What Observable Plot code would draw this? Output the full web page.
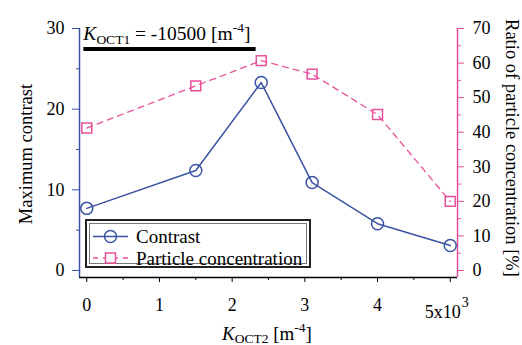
<!DOCTYPE html>
<html><head><meta charset="utf-8">
<script src="https://cdn.jsdelivr.net/npm/d3@7"></script>
<script src="https://cdn.jsdelivr.net/npm/@observablehq/plot@0.6"></script>
<style>
body{margin:0;background:#fff}
</style>
</head><body><div id="chart"></div>
<script>
// ---- data ----
const kOct2 = [0, 1.5, 2.4, 3.1, 4, 5];            // x (x10^3 m^-4)
const contrast = [7.7, 12.4, 23.3, 10.9, 5.8, 3.1]; // left axis
const particleRatio = [41.2, 53.4, 60.7, 56.8, 45.1, 20.0]; // right axis (%)
const leftTicks = [0, 10, 20, 30];
const leftMinor = [5, 15, 25];
const rightTicks = [0, 10, 20, 30, 40, 50, 60, 70];
const rightMinor = [5, 15, 25, 35, 45, 55, 65];
const xTicks = [0, 1, 2, 3, 4, 5];
const xMinor = [0.5, 1.5, 2.5, 3.5, 4.5];
const seriesNames = ["Contrast", "Particle concentration"];
const kOct1Value = "-10500";
const annotSpan = [-0.04, 2.33];
const annotLevel = 27.45;

const blue = "#3a53a4", pink = "#e8509a";
const FONT = "'Liberation Serif', 'Times New Roman', Times, 'DejaVu Serif', serif";
const ratio = 30 / 70; // right -> left scale
const xDom = [-0.1, 5.1], yDom = [-0.87, 30];

const rows = kOct2.map((x, i) => ({x, c: contrast[i], p: particleRatio[i] * ratio}));

const chart = Plot.plot({
  width: 522, height: 345,
  marginLeft: 79, marginRight: 65, marginTop: 28, marginBottom: 68,
  style: {fontSize: "18px", background: "#fff", color: "#000"},
  x: {domain: xDom, axis: null},
  y: {domain: yDom, axis: null},
  marks: [
    Plot.ruleX([xDom[0]], {stroke: blue, strokeWidth: 1.5}),
    Plot.axisY({ticks: leftTicks, tickSize: 7, tickPadding: 8, stroke: blue, fill: "#000", label: null}),
    Plot.axisY({ticks: leftMinor, tickSize: 3, text: null, stroke: blue, label: null}),
    Plot.ruleX([xDom[1]], {stroke: pink, strokeWidth: 1.5}),
    Plot.axisY({anchor: "right", ticks: rightTicks.map(v => v * ratio), tickFormat: d => Math.round(d / ratio),
      tickSize: 6, tickPadding: 9, stroke: pink, fill: "#000", label: null}),
    Plot.axisY({anchor: "right", ticks: rightMinor.map(v => v * ratio), tickSize: 3, text: null, stroke: pink, label: null}),
    Plot.ruleY([yDom[0]], {stroke: "#000", strokeWidth: 1.5}),
    Plot.axisX({ticks: xTicks, tickSize: 5, tickPadding: 16, tickFormat: d => d === 5 ? "" : d, stroke: "#000", label: null}),
    Plot.axisX({ticks: xMinor, tickSize: 3, text: null, stroke: "#000", label: null}),
    Plot.ruleY([annotLevel], {x1: annotSpan[0], x2: annotSpan[1], stroke: "#000", strokeWidth: 4}),
    Plot.line(rows, {x: "x", y: "p", stroke: pink, strokeWidth: 1.3, strokeDasharray: "6,5"}),
    Plot.dot(rows, {x: "x", y: "p", symbol: "square", r: 5.6, stroke: pink, strokeWidth: 1.5, fill: "none"}),
    Plot.line(rows, {x: "x", y: "c", stroke: blue, strokeWidth: 1.5}),
    Plot.dot(rows, {x: "x", y: "c", symbol: "circle", r: 6, stroke: blue, strokeWidth: 1.5, fill: "none"})
  ]
});
document.getElementById("chart").append(chart);

const svg = d3.select(chart);
const sx = chart.scale("x");

svg.append("text").attr("x", sx.apply(5) + 11).attr("y", 318).attr("text-anchor", "end")
  .attr("font-size", 18).text("5x10");
svg.append("text").attr("x", sx.apply(5) + 12).attr("y", 307).attr("text-anchor", "start").attr("font-size", 14).text("3");

const ann = svg.append("text").attr("x", sx.apply(annotSpan[0])).attr("y", 40).attr("text-anchor", "start").attr("font-size", 19.5);
ann.append("tspan").attr("font-style", "italic").text("K");
ann.append("tspan").attr("font-size", 13.5).attr("dy", 4).text("OCT1");
ann.append("tspan").attr("dy", -4).text(" = " + kOct1Value + " [m");
ann.append("tspan").attr("font-size", 13.5).attr("dy", -8).text("-4");
ann.append("tspan").attr("dy", 8).text("]");

const xt = svg.append("text").attr("x", 267).attr("y", 340).attr("text-anchor", "middle").attr("font-size", 19);
xt.append("tspan").attr("font-style", "italic").text("K");
xt.append("tspan").attr("font-size", 13.5).attr("dy", 3).text("OCT2");
xt.append("tspan").attr("dy", -3).text(" [m");
xt.append("tspan").attr("font-size", 13.5).attr("dy", -8).text("-4");
xt.append("tspan").attr("dy", 8).text("]");

svg.append("text").attr("transform", "translate(32,154) rotate(-90)").attr("text-anchor", "middle")
  .attr("font-size", 18.5).text("Maximum contrast");
svg.append("text").attr("transform", "translate(506,148) rotate(90)").attr("text-anchor", "middle")
  .attr("font-size", 18.5).text("Ratio of particle concentration [%]");

const lg = svg.append("g");
lg.append("rect").attr("x", 86).attr("y", 220).attr("width", 224).attr("height", 47)
  .attr("fill", "#fff").attr("stroke", "#222").attr("stroke-width", 2);
lg.append("rect").attr("x", 89.5).attr("y", 223.5).attr("width", 217).attr("height", 40)
  .attr("fill", "none").attr("stroke", "#777").attr("stroke-width", 1);
lg.append("line").attr("x1", 93).attr("x2", 128).attr("y1", 236.5).attr("y2", 236.5).attr("stroke", blue).attr("stroke-width", 1.5);
lg.append("circle").attr("cx", 110.5).attr("cy", 236.5).attr("r", 6).attr("fill", "none").attr("stroke", blue).attr("stroke-width", 1.5);
lg.append("text").attr("x", 136).attr("y", 243).attr("text-anchor", "start").attr("font-size", 19).text(seriesNames[0]);
lg.append("line").attr("x1", 93).attr("x2", 128).attr("y1", 258).attr("y2", 258).attr("stroke", pink).attr("stroke-width", 1.3).attr("stroke-dasharray", "5,5");
lg.append("rect").attr("x", 105.5).attr("y", 253).attr("width", 10).attr("height", 10).attr("fill", "#fff").attr("stroke", pink).attr("stroke-width", 1.5);
lg.append("text").attr("x", 136).attr("y", 264.5).attr("text-anchor", "start").attr("font-size", 19).text(seriesNames[1]);

chart.setAttribute("font-family", FONT);
chart.style.fontFamily = FONT;
svg.selectAll("text, tspan").attr("font-family", FONT).style("font-family", FONT);
</script>
</body></html>
